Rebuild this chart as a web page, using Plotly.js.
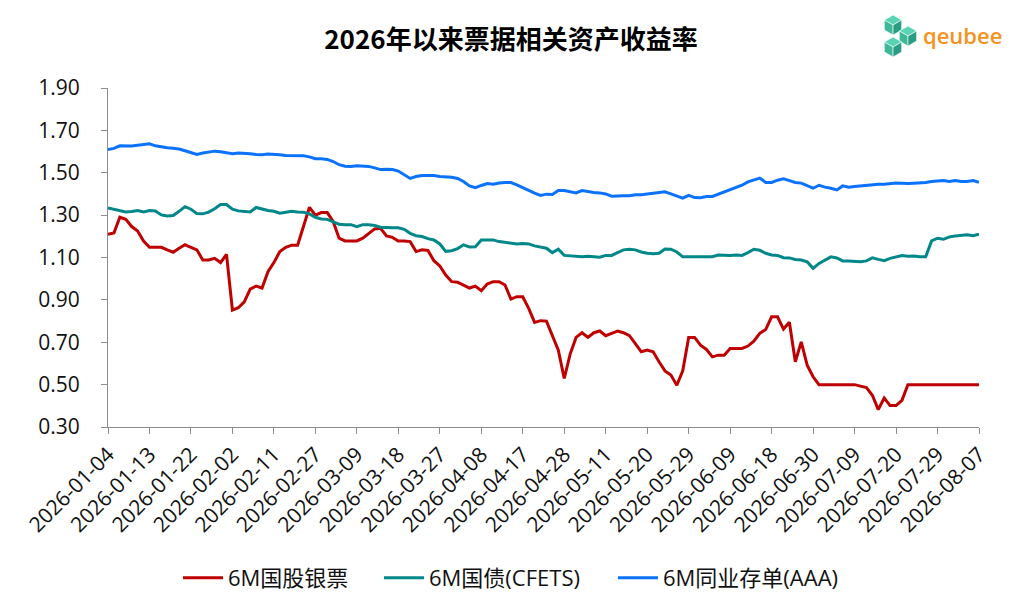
<!DOCTYPE html>
<html>
<head>
<meta charset="utf-8">
<script src="https://cdn.plot.ly/plotly-3.0.1.min.js"></script>
<style>
  html, body { margin: 0; padding: 0; background: #fff; }
  #chart { width: 1024px; height: 614px; }
</style>
</head>
<body>
<div id="chart"></div>
<script>
// trading days since the start of 2026
var dates = [
  '2026-01-04','2026-01-05','2026-01-06','2026-01-07','2026-01-08','2026-01-09','2026-01-12','2026-01-13',
  '2026-01-14','2026-01-15','2026-01-16','2026-01-19','2026-01-20','2026-01-21','2026-01-22','2026-01-23',
  '2026-01-26','2026-01-27','2026-01-28','2026-01-29','2026-01-30','2026-02-02','2026-02-03','2026-02-04',
  '2026-02-05','2026-02-06','2026-02-09','2026-02-10','2026-02-11','2026-02-12','2026-02-13','2026-02-14',
  '2026-02-24','2026-02-25','2026-02-26','2026-02-27','2026-02-28','2026-03-02','2026-03-03','2026-03-04',
  '2026-03-05','2026-03-06','2026-03-09','2026-03-10','2026-03-11','2026-03-12','2026-03-13','2026-03-16',
  '2026-03-17','2026-03-18','2026-03-19','2026-03-20','2026-03-23','2026-03-24','2026-03-25','2026-03-26',
  '2026-03-27','2026-03-30','2026-03-31','2026-04-01','2026-04-02','2026-04-03','2026-04-07','2026-04-08',
  '2026-04-09','2026-04-10','2026-04-13','2026-04-14','2026-04-15','2026-04-16','2026-04-17','2026-04-20',
  '2026-04-21','2026-04-22','2026-04-23','2026-04-24','2026-04-27','2026-04-28','2026-04-29','2026-04-30',
  '2026-05-06','2026-05-07','2026-05-08','2026-05-09','2026-05-11','2026-05-12','2026-05-13','2026-05-14',
  '2026-05-15','2026-05-18','2026-05-19','2026-05-20','2026-05-21','2026-05-22','2026-05-25','2026-05-26',
  '2026-05-27','2026-05-28','2026-05-29','2026-06-01','2026-06-02','2026-06-03','2026-06-04','2026-06-05',
  '2026-06-08','2026-06-09','2026-06-10','2026-06-11','2026-06-12','2026-06-15','2026-06-16','2026-06-17',
  '2026-06-18','2026-06-22','2026-06-23','2026-06-24','2026-06-25','2026-06-26','2026-06-29','2026-06-30',
  '2026-07-01','2026-07-02','2026-07-03','2026-07-06','2026-07-07','2026-07-08','2026-07-09','2026-07-10',
  '2026-07-13','2026-07-14','2026-07-15','2026-07-16','2026-07-17','2026-07-20','2026-07-21','2026-07-22',
  '2026-07-23','2026-07-24','2026-07-27','2026-07-28','2026-07-29','2026-07-30','2026-07-31','2026-08-03',
  '2026-08-04','2026-08-05','2026-08-06','2026-08-07'
];

// 6M国股银票
var billYield = [
  1.21,1.216,1.29,1.28,1.246,1.225,1.178,1.148,1.148,1.148,1.136,1.125,1.144,1.16,1.148,1.136,
  1.088,1.088,1.096,1.076,1.115,0.852,0.863,0.891,0.951,0.965,0.956,1.033,1.076,1.128,1.148,1.158,
  1.158,1.246,1.337,1.30,1.312,1.312,1.27,1.191,1.178,1.178,1.178,1.191,1.214,1.235,1.238,1.202,
  1.195,1.178,1.178,1.175,1.128,1.136,1.133,1.085,1.06,1.017,0.986,0.983,0.97,0.956,0.965,0.943,
  0.975,0.986,0.986,0.97,0.904,0.915,0.915,0.86,0.794,0.802,0.80,0.735,0.663,0.529,0.644,0.723,
  0.745,0.723,0.745,0.753,0.731,0.742,0.753,0.745,0.731,0.694,0.655,0.663,0.655,0.608,0.565,0.545,
  0.497,0.565,0.723,0.723,0.686,0.666,0.631,0.639,0.639,0.671,0.671,0.671,0.682,0.705,0.742,0.76,
  0.82,0.82,0.762,0.794,0.608,0.702,0.592,0.537,0.50,0.50,0.50,0.50,0.50,0.50,0.50,0.493,
  0.486,0.45,0.382,0.437,0.401,0.401,0.426,0.50,0.50,0.50,0.50,0.50,0.50,0.50,0.50,0.50,
  0.50,0.50,0.50,0.50
];

// 6M国债(CFETS)
var govYield = [
  1.334,1.328,1.322,1.315,1.317,1.322,1.315,1.322,1.32,1.301,1.296,1.298,1.318,1.34,1.328,1.307,
  1.306,1.314,1.33,1.35,1.35,1.328,1.32,1.317,1.315,1.336,1.328,1.322,1.318,1.309,1.314,1.318,
  1.315,1.314,1.306,1.29,1.282,1.28,1.268,1.257,1.255,1.255,1.246,1.255,1.254,1.251,1.243,1.24,
  1.24,1.24,1.233,1.214,1.203,1.199,1.189,1.183,1.164,1.129,1.132,1.142,1.16,1.15,1.151,1.183,
  1.183,1.183,1.175,1.172,1.17,1.164,1.166,1.164,1.155,1.148,1.144,1.123,1.139,1.11,1.107,1.106,
  1.104,1.106,1.103,1.101,1.11,1.11,1.123,1.136,1.139,1.136,1.126,1.12,1.118,1.12,1.14,1.139,
  1.126,1.103,1.103,1.104,1.103,1.104,1.104,1.112,1.109,1.109,1.112,1.11,1.123,1.139,1.134,1.12,
  1.112,1.11,1.099,1.098,1.091,1.088,1.08,1.049,1.072,1.088,1.103,1.098,1.084,1.084,1.082,1.08,
  1.084,1.098,1.091,1.085,1.096,1.103,1.109,1.106,1.107,1.103,1.103,1.178,1.191,1.186,1.197,1.202,
  1.205,1.207,1.203,1.21
];

// 6M同业存单(AAA)
var ncdYield = [
  1.61,1.615,1.627,1.626,1.626,1.63,1.635,1.637,1.627,1.621,1.618,1.616,1.612,1.604,1.596,1.586,
  1.593,1.599,1.602,1.599,1.596,1.59,1.593,1.593,1.59,1.586,1.585,1.588,1.588,1.585,1.582,1.582,
  1.582,1.58,1.575,1.566,1.566,1.563,1.553,1.538,1.531,1.53,1.533,1.531,1.53,1.523,1.515,1.517,
  1.515,1.508,1.492,1.473,1.482,1.487,1.487,1.487,1.482,1.481,1.479,1.473,1.459,1.438,1.43,1.44,
  1.449,1.446,1.452,1.454,1.454,1.443,1.43,1.415,1.404,1.393,1.399,1.397,1.416,1.416,1.41,1.405,
  1.416,1.411,1.407,1.405,1.40,1.389,1.391,1.391,1.391,1.396,1.396,1.40,1.402,1.407,1.41,1.40,
  1.391,1.38,1.393,1.383,1.382,1.388,1.388,1.399,1.411,1.422,1.432,1.441,1.457,1.467,1.475,1.454,
  1.454,1.465,1.471,1.463,1.454,1.451,1.44,1.427,1.441,1.432,1.427,1.419,1.438,1.432,1.435,1.438,
  1.441,1.445,1.446,1.446,1.449,1.452,1.451,1.449,1.451,1.452,1.454,1.459,1.462,1.463,1.459,1.463,
  1.459,1.459,1.463,1.455
];

var seriesNames = ['6M国股银票', '6M国债(CFETS)', '6M同业存单(AAA)'];
var seriesColors = ['#C00000', '#00878A', '#0A72FF'];
var legendIds = ['legend', 'legend2', 'legend3'];

var tickDates = dates.filter(function (d, i) { return i % 7 === 0; });

var font = '"Open Sans", "Noto Sans CJK SC", sans-serif';

var traces = [billYield, govYield, ncdYield].map(function (ys, k) {
  return {
    x: dates,
    y: ys,
    type: 'scatter',
    mode: 'lines',
    name: seriesNames[k],
    legend: legendIds[k],
    line: { color: seriesColors[k], width: 3 }
  };
});

// pixel -> paper coords (used for logo and legend placement)
var L = 108, R = 979, T = 88, B = 427;
function px(x) { return (x - L) / (R - L); }
function py(y) { return (B - y) / (B - T); }
function poly(pts, color) {
  var d = pts.map(function (p, i) {
    return (i ? 'L' : 'M') + px(p[0]).toFixed(4) + ',' + py(p[1]).toFixed(4);
  }).join(' ') + ' Z';
  return { type: 'path', xref: 'paper', yref: 'paper', path: d,
           fillcolor: color, line: { width: 0.6, color: '#ffffff' } };
}
function cube(cx, cy, r) {
  var w = 0.866 * r;
  return [
    poly([[cx, cy - r], [cx + w, cy - r / 2], [cx, cy], [cx - w, cy - r / 2]], '#5AD3B4'),
    poly([[cx - w, cy - r / 2], [cx, cy], [cx, cy + r], [cx - w, cy + r / 2]], '#3DB898'),
    poly([[cx, cy], [cx + w, cy - r / 2], [cx + w, cy + r / 2], [cx, cy + r]], '#2A9C84')
  ];
}
var logoShapes = [].concat(cube(893, 25, 10), cube(908, 36, 10), cube(893, 47, 10));

function legendAt(xPix) {
  return {
    orientation: 'h',
    x: px(xPix),
    xanchor: 'left',
    y: py(578),
    yanchor: 'middle',
    bgcolor: 'rgba(0,0,0,0)',
    font: { size: 22, color: '#111111' },
    itemwidth: 40
  };
}

var layout = {
  width: 1024,
  height: 614,
  paper_bgcolor: '#ffffff',
  plot_bgcolor: '#ffffff',
  margin: { l: L, r: 1024 - R, t: T, b: 614 - B },
  font: { family: font, size: 21, color: '#111111' },
  title: {
    text: '<b>2026年以来票据相关资产收益率</b>',
    font: { family: '"Noto Sans CJK SC", sans-serif', size: 26, color: '#000000' },
    x: 0.499, xanchor: 'center', y: 1 - 40 / 614, yanchor: 'middle'
  },
  xaxis: {
    type: 'category',
    range: [0, dates.length - 1],
    autorange: false,
    tickmode: 'array',
    tickvals: tickDates,
    ticktext: tickDates,
    tickangle: -45,
    ticks: 'outside',
    ticklen: 6,
    tickcolor: '#8c8c8c',
    showline: true,
    linecolor: '#8c8c8c',
    linewidth: 1,
    showgrid: false,
    zeroline: false,
    tickfont: { size: 21, color: '#111111' }
  },
  yaxis: {
    range: [0.30, 1.90],
    autorange: false,
    tick0: 0.30,
    dtick: 0.20,
    tickformat: '.2f',
    ticks: 'outside',
    ticklen: 6,
    tickcolor: '#8c8c8c',
    showline: true,
    linecolor: '#8c8c8c',
    linewidth: 1,
    showgrid: false,
    zeroline: false,
    ticklabelstandoff: 17,
    tickfont: { size: 21, color: '#111111' }
  },
  showlegend: true,
  legend: legendAt(178),
  legend2: legendAt(379),
  legend3: legendAt(613),
  shapes: logoShapes,
  annotations: [{
    text: 'qeubee',
    xref: 'paper', yref: 'paper',
    x: px(921), y: py(35),
    xanchor: 'left', yanchor: 'middle',
    showarrow: false,
    font: { family: '"Open Sans", sans-serif', size: 22, weight: 600, color: '#F5921E' }
  }]
};

Plotly.newPlot('chart', traces, layout, { displayModeBar: false, staticPlot: true });
</script>
</body>
</html>
